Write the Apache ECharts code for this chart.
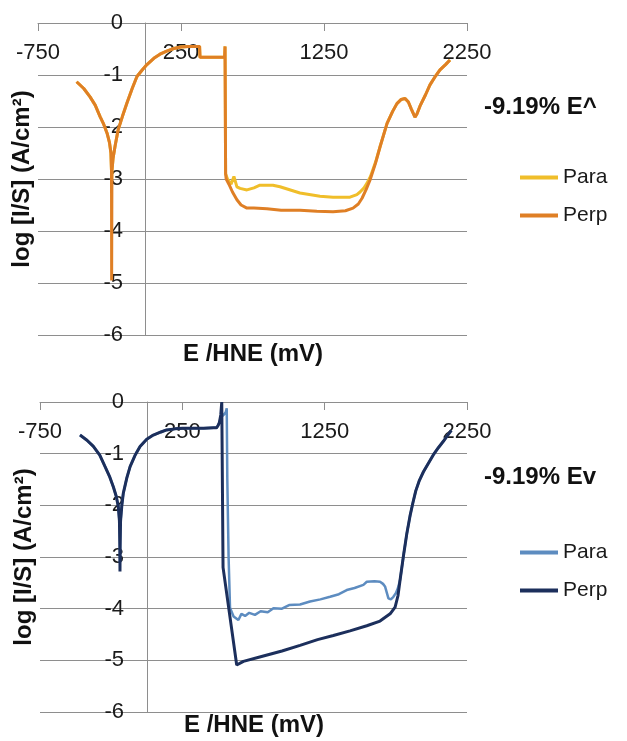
<!DOCTYPE html>
<html>
<head>
<meta charset="utf-8">
<script src="https://cdn.jsdelivr.net/npm/echarts@6/dist/echarts.min.js"></script>
<style>
  html, body { margin: 0; padding: 0; background: #fff; }
  #chart { width: 627px; height: 741px; }
</style>
</head>
<body>
<div id="chart"></div>
<script>
// x ticks and panel labels
const xTicks = [-750, 250, 1250, 2250];
const yTicks = [0, -1, -2, -3, -4, -5, -6];
const panelTitles = ['-9.19% E^', '-9.19% Ev'];

// top panel (E^), potential in mV, log current
const topParaX = [-480, -430, -386, -350, -316, -290, -267, -250, -240, -236, -235, -233, -225, -210, -190, -160, -128, -90, -58, -20, 12, 60, 103, 150, 200, 250, 300, 380, 383, 450, 520, 555, 558, 562, 575, 600, 620, 641, 663, 711, 760, 802, 893, 942, 1082, 1222, 1313, 1432, 1480, 1502, 1530, 1551, 1575, 1610, 1642, 1691, 1730, 1760, 1790, 1817, 1840, 1860, 1886, 1900, 1921, 1960, 1991, 2030, 2061, 2100, 2131];
const topParaY = [-1.13, -1.26, -1.42, -1.58, -1.80, -1.95, -2.12, -2.30, -2.50, -2.85, -3.00, -2.85, -2.60, -2.35, -2.06, -1.80, -1.54, -1.25, -1.03, -0.90, -0.80, -0.68, -0.60, -0.54, -0.49, -0.46, -0.45, -0.45, -0.66, -0.66, -0.66, -0.66, -0.45, -2.90, -3.00, -3.10, -2.95, -3.15, -3.18, -3.21, -3.17, -3.12, -3.12, -3.15, -3.27, -3.33, -3.35, -3.35, -3.30, -3.25, -3.17, -3.08, -2.95, -2.68, -2.38, -1.93, -1.70, -1.55, -1.47, -1.45, -1.52, -1.65, -1.81, -1.75, -1.60, -1.38, -1.19, -1.02, -0.90, -0.80, -0.71];

const topPerpX = [-480, -430, -386, -350, -316, -290, -267, -250, -240, -236, -235, -233, -225, -210, -190, -160, -128, -90, -58, -20, 12, 60, 103, 150, 200, 250, 300, 380, 383, 450, 520, 555, 558, 562, 566, 585, 610, 641, 670, 711, 760, 851, 950, 1082, 1200, 1313, 1400, 1453, 1490, 1516, 1545, 1572, 1610, 1642, 1691, 1730, 1760, 1790, 1817, 1840, 1860, 1886, 1900, 1921, 1960, 1991, 2030, 2061, 2100, 2131];
const topPerpY = [-1.13, -1.26, -1.42, -1.58, -1.80, -1.95, -2.12, -2.30, -2.50, -2.85, -4.95, -2.85, -2.60, -2.35, -2.06, -1.80, -1.54, -1.25, -1.03, -0.90, -0.80, -0.68, -0.60, -0.54, -0.49, -0.46, -0.45, -0.45, -0.66, -0.66, -0.66, -0.66, -0.45, -2.90, -3.00, -3.10, -3.25, -3.40, -3.50, -3.56, -3.56, -3.57, -3.60, -3.60, -3.62, -3.63, -3.61, -3.56, -3.48, -3.37, -3.20, -3.02, -2.70, -2.38, -1.93, -1.70, -1.55, -1.47, -1.45, -1.52, -1.65, -1.81, -1.75, -1.60, -1.38, -1.19, -1.02, -0.90, -0.80, -0.71];

// bottom panel (Ev)
const botParaX = [-469, -420, -375, -330, -293, -260, -235, -215, -200, -192, -189, -188, -187, -184, -175, -165, -140, -117, -80, -47, 0, 46, 100, 140, 200, 250, 300, 400, 470, 490, 500, 510, 520, 540, 555, 562, 566, 575, 585, 610, 644, 665, 691, 720, 760, 800, 850, 890, 950, 1000, 1077, 1147, 1220, 1288, 1350, 1405, 1460, 1522, 1546, 1600, 1639, 1660, 1674, 1698, 1715, 1733, 1750, 1765, 1780, 1805, 1827, 1850, 1870, 1890, 1915, 1944, 1980, 2014, 2050, 2084, 2115, 2140];
const botParaY = [-0.64, -0.74, -0.86, -1.03, -1.25, -1.45, -1.64, -1.82, -2.02, -2.30, -2.70, -3.10, -2.70, -2.30, -2.00, -1.77, -1.47, -1.25, -1.02, -0.86, -0.72, -0.64, -0.58, -0.54, -0.52, -0.51, -0.51, -0.51, -0.50, -0.50, -0.46, -0.40, -0.30, -0.25, -0.20, -0.12, -1.50, -3.00, -3.98, -4.15, -4.22, -4.10, -4.14, -4.08, -4.12, -4.05, -4.07, -3.99, -4.00, -3.93, -3.92, -3.86, -3.82, -3.77, -3.72, -3.64, -3.60, -3.54, -3.48, -3.47, -3.48, -3.52, -3.57, -3.80, -3.82, -3.77, -3.70, -3.60, -3.44, -2.95, -2.55, -2.20, -1.95, -1.72, -1.52, -1.35, -1.18, -1.02, -0.88, -0.76, -0.64, -0.55];

const botPerpX = [-469, -420, -375, -330, -293, -260, -235, -215, -200, -192, -189, -188, -187, -184, -175, -165, -140, -117, -80, -47, 0, 46, 100, 140, 200, 250, 300, 400, 470, 490, 500, 510, 520, 527, 536, 632, 679, 800, 950, 1077, 1200, 1311, 1428, 1546, 1639, 1710, 1745, 1765, 1780, 1805, 1827, 1850, 1870, 1890, 1915, 1944, 1980, 2014, 2050, 2084, 2115, 2140];
const botPerpY = [-0.64, -0.74, -0.86, -1.03, -1.25, -1.45, -1.64, -1.82, -2.02, -2.30, -2.80, -3.28, -2.80, -2.30, -2.00, -1.77, -1.47, -1.25, -1.02, -0.86, -0.72, -0.64, -0.58, -0.54, -0.52, -0.51, -0.51, -0.51, -0.50, -0.50, -0.46, -0.40, -0.25, 0.00, -3.20, -5.09, -5.02, -4.93, -4.82, -4.71, -4.60, -4.52, -4.43, -4.33, -4.24, -4.10, -3.97, -3.75, -3.44, -2.95, -2.55, -2.20, -1.95, -1.72, -1.52, -1.35, -1.18, -1.02, -0.88, -0.76, -0.64, -0.55];

const FONT = "'Liberation Sans', Arial, sans-serif";
const GRID_GRAY = '#8e8e8e';

const zip = (xs, ys) => xs.map((x, i) => [x, ys[i]]);

// axis along y = 0, which is the top edge of each panel
const makeXAxis = (gridIndex) => ({
  gridIndex,
  type: 'value',
  position: 'top',
  min: xTicks[0],
  max: xTicks[xTicks.length - 1],
  interval: xTicks[1] - xTicks[0],
  axisLine: { onZero: false, lineStyle: { color: GRID_GRAY, width: 1 } },
  axisTick: { show: true, inside: true, length: 8, lineStyle: { color: GRID_GRAY } },
  axisLabel: { inside: true, fontFamily: FONT, fontSize: 22, color: '#1a1a1a', margin: 19,
    formatter: (v) => String(v) },
  splitLine: { show: false }
});

// y axis line sits on E = 0, labels hang just left of it
const makeYAxis = (gridIndex, labelMargin) => ({
  gridIndex,
  type: 'value',
  min: yTicks[yTicks.length - 1],
  max: yTicks[0],
  interval: 1,
  name: 'log [I/S] (A/cm²)',
  nameLocation: 'middle',
  nameGap: 4,
  nameTextStyle: { fontFamily: FONT, fontSize: 24, fontWeight: 'bold', color: '#111' },
  axisLine: { onZero: true, lineStyle: { color: GRID_GRAY, width: 1 } },
  axisTick: { show: false },
  axisLabel: { inside: true, align: 'right', fontFamily: FONT, fontSize: 22, color: '#1a1a1a',
    margin: labelMargin },
  splitLine: { show: true, lineStyle: { color: GRID_GRAY, width: 1 } }
});

const lineSeries = (name, idx, data, color, width) => ({
  name,
  type: 'line',
  xAxisIndex: idx,
  yAxisIndex: idx,
  data,
  showSymbol: false,
  symbol: 'none',
  color,
  lineStyle: { color, width },
  emphasis: { disabled: true }
});

const makeLegend = (names, top) => ({
  data: names,
  orient: 'vertical',
  left: 520,
  top,
  padding: 0,
  itemGap: 17,
  itemWidth: 38,
  itemHeight: 4,
  icon: 'rect',
  formatter: (n) => n.trim(),
  textStyle: { fontFamily: FONT, fontSize: 21, color: '#1a1a1a', lineHeight: 21 }
});

const boldText = (text, x, y) => ({
  type: 'text',
  x,
  y,
  style: { text, font: "bold 24px 'Liberation Sans', Arial, sans-serif", fill: '#111',
    align: 'center', verticalAlign: 'middle' }
});

const initChart = () => {
  const myChart = echarts.init(document.getElementById('chart'), null, { renderer: 'canvas' });
  const option = {
    animation: false,
    backgroundColor: '#fff',
    title: [
      { text: panelTitles[0], left: 484, top: 95, padding: 0,
        textStyle: { fontFamily: FONT, fontSize: 24, fontWeight: 'bold', color: '#111' } },
      { text: panelTitles[1], left: 484, top: 465, padding: 0,
        textStyle: { fontFamily: FONT, fontSize: 24, fontWeight: 'bold', color: '#111' } }
    ],
    legend: [
      makeLegend(['Para', 'Perp'], 167),
      makeLegend(['Para ', 'Perp '], 542)
    ],
    graphic: [
      boldText('E /HNE (mV)', 253, 354),
      boldText('E /HNE (mV)', 254, 725)
    ],
    grid: [
      { left: 38, top: 23, width: 429, height: 312, outerBoundsMode: 'none', containLabel: false },
      { left: 40, top: 402, width: 427, height: 310, outerBoundsMode: 'none', containLabel: false }
    ],
    xAxis: [makeXAxis(0), makeXAxis(1)],
    yAxis: [makeYAxis(0, 85), makeYAxis(1, 84)],
    series: [
      lineSeries('Para', 0, zip(topParaX, topParaY), '#F0BE2A', 3),
      lineSeries('Perp', 0, zip(topPerpX, topPerpY), '#DF7F25', 3),
      lineSeries('Para ', 1, zip(botParaX, botParaY), '#5D8CC0', 2.5),
      lineSeries('Perp ', 1, zip(botPerpX, botPerpY), '#1C2F5C', 3)
    ]
  };
  myChart.setOption(option);
};

initChart();
</script>
</body>
</html>
